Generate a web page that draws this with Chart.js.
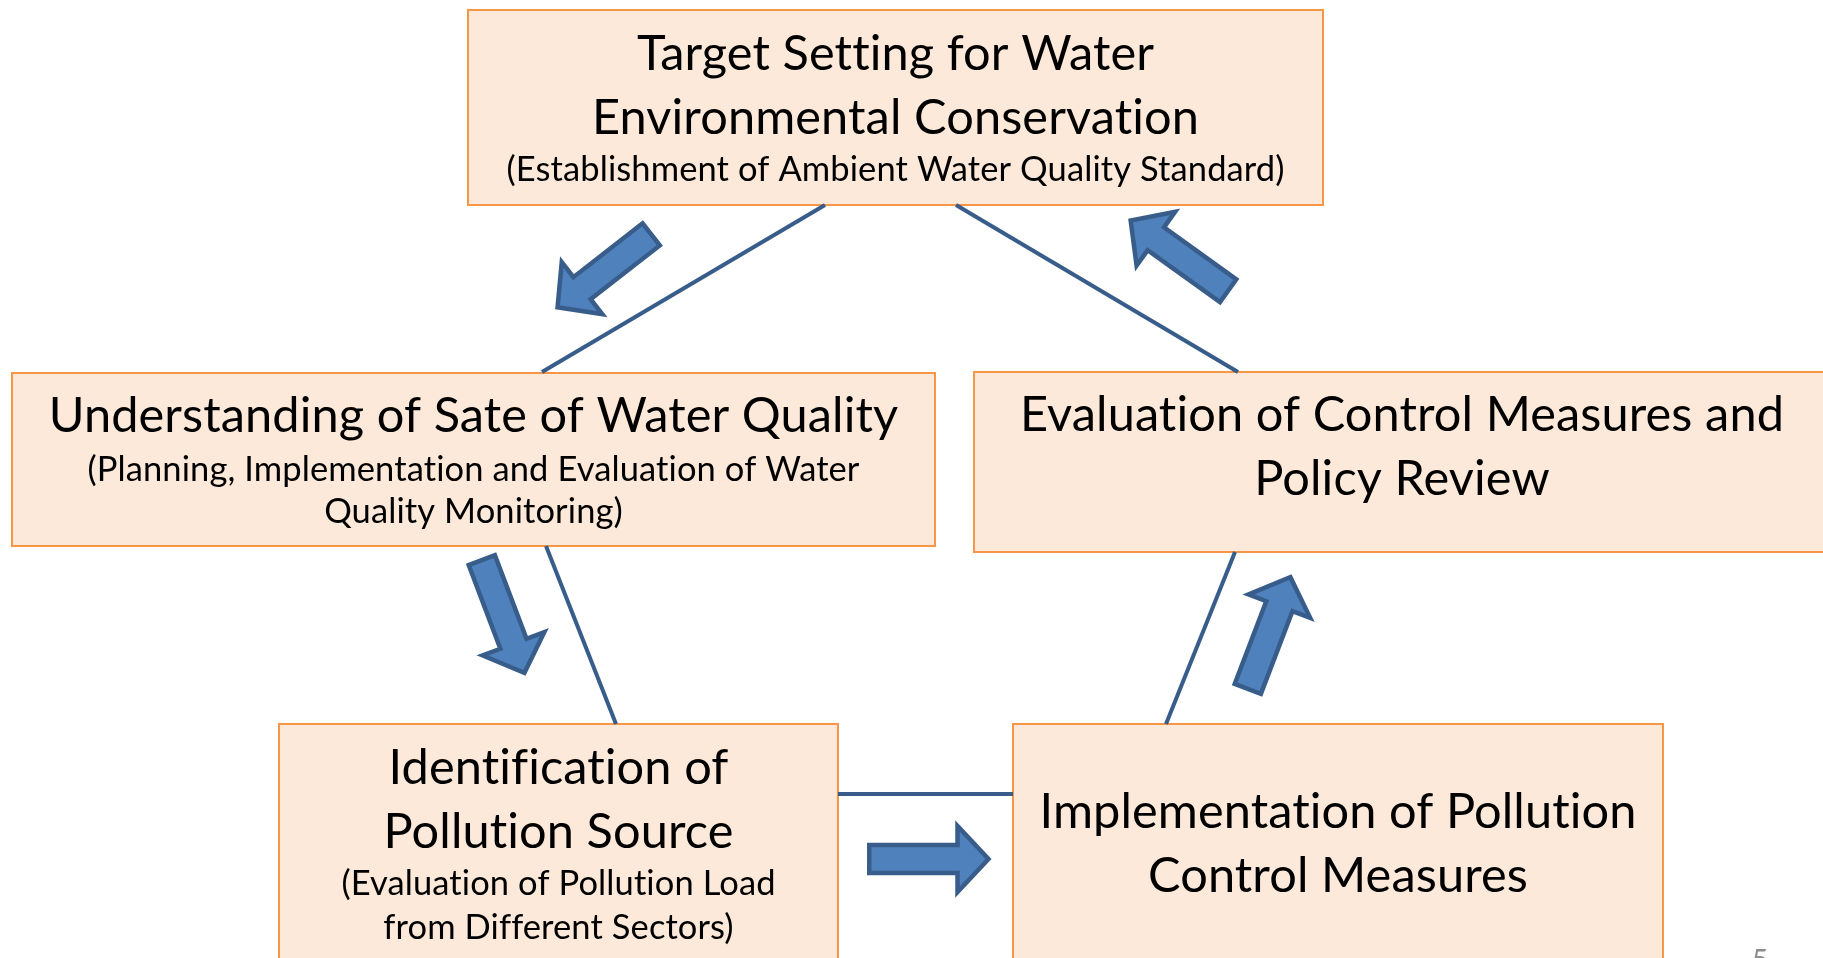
<!DOCTYPE html>
<html>
<head>
<meta charset="utf-8">
<title>Water environment management cycle</title>
<script src="https://cdn.jsdelivr.net/npm/chart.js@4.4.1/dist/chart.umd.min.js"></script>
<style>
  html, body { margin: 0; padding: 0; background: #ffffff; overflow: hidden; }
  #wrap { position: relative; width: 1823px; height: 958px; }
</style>
</head>
<body>
<div id="wrap"><canvas id="cycle"></canvas></div>
<script>
// steps of the cycle, in order (top, left, bottom left, bottom right, right)
const stepTitles = [
    ['Target Setting for Water', 'Environmental Conservation'],
    ['Understanding of Sate of Water Quality'],
    ['Identification of', 'Pollution Source'],
    ['Implementation of Pollution', 'Control Measures'],
    ['Evaluation of Control Measures and', 'Policy Review']
];
const stepNotes = [
    ['(Establishment of Ambient Water Quality Standard)'],
    ['(Planning, Implementation and Evaluation of Water', 'Quality Monitoring)'],
    ['(Evaluation of Pollution Load', 'from Different Sectors)'],
    [],
    []
];
const pageNumber = '5';

// layout (diagram units = pixels of the slide)
const boxes = [
    [468, 10, 1323, 205],
    [12, 373, 935, 546],
    [279, 724, 838, 1000],
    [1013, 724, 1663, 1000],
    [974, 372, 1830, 552]
];
const baselines = [
    [70, 134, 181],
    [432, 481, 523],
    [784, 848, 895, 939],
    [828, 892],
    [431, 495]
];
const links = [
    [[825, 205], [542, 372]],
    [[546, 546], [616, 724]],
    [[838, 794], [1013, 794]],
    [[1166, 724], [1235, 552]],
    [[1238, 372], [956, 205]]
];
const arrows = [
    [[653, 233], [554, 310]],
    [[481, 558], [526, 677]],
    [[867, 859], [993, 859]],
    [[1247, 691], [1292, 573]],
    [[1230, 292], [1127, 218]]
];

const FONT = 'Lato, "Open Sans", sans-serif';

// works out a font size so a line gets the width it has on the slide
function fitSize(ctx, text, width) {
    ctx.font = '50px ' + FONT;
    return 50 * width / ctx.measureText(text).width;
}

const diagramPlugin = {
    id: 'diagram',
    beforeDatasetsDraw(chart) {
        const ctx = chart.ctx;
        const xs = chart.scales.x, ys = chart.scales.y;
        ctx.save();
        ctx.letterSpacing = '0.1px'; // keeps Lato from joining "ti"
        const bigSize = fitSize(ctx, stepTitles[1][0], 850);
        const smallSize = fitSize(ctx, stepNotes[0][0], 777);
        boxes.forEach((b, i) => {
            const x0 = xs.getPixelForValue(b[0]), y0 = ys.getPixelForValue(b[1]);
            const x1 = xs.getPixelForValue(b[2]), y1 = ys.getPixelForValue(b[3]);
            ctx.fillStyle = '#FDE9D9';
            ctx.fillRect(x0, y0, x1 - x0, y1 - y0);
            ctx.strokeStyle = '#F79646';
            ctx.lineWidth = 2;
            ctx.strokeRect(x0, y0, x1 - x0, y1 - y0);

            // texts
            const cx = (x0 + x1) / 2;
            ctx.fillStyle = '#000000';
            ctx.textAlign = 'center';
            ctx.textBaseline = 'alphabetic';
            let k = 0;
            stepTitles[i].forEach(t => {
                ctx.font = bigSize.toFixed(1) + 'px ' + FONT;
                ctx.fillText(t, cx, ys.getPixelForValue(baselines[i][k++]));
            });
            stepNotes[i].forEach(t => {
                ctx.font = smallSize.toFixed(1) + 'px ' + FONT;
                ctx.fillText(t, cx, ys.getPixelForValue(baselines[i][k++]));
            });
        });
        ctx.restore();
    },
    afterDatasetsDraw(chart) {
        const ctx = chart.ctx;
        const xs = chart.scales.x, ys = chart.scales.y;
        const sw = 4.5, shaft = 14, head = 33, headLen = 31;
        ctx.save();
        arrows.forEach(a => {
            const [tx, ty] = a[0], [px, py] = a[1];
            const len = Math.hypot(px - tx, py - ty);
            const ux = (px - tx) / len, uy = (py - ty) / len;
            const nx = -uy, ny = ux;
            const sx = tx + ux * sw / 2, sy = ty + uy * sw / 2;
            const ex = px - ux * sw, ey = py - uy * sw;
            const bx = ex - ux * headLen, by = ey - uy * headLen;
            const pts = [
                [sx + nx * shaft, sy + ny * shaft],
                [bx + nx * shaft, by + ny * shaft],
                [bx + nx * head, by + ny * head],
                [ex, ey],
                [bx - nx * head, by - ny * head],
                [bx - nx * shaft, by - ny * shaft],
                [sx - nx * shaft, sy - ny * shaft]
            ];
            ctx.beginPath();
            pts.forEach((p, j) => {
                const X = xs.getPixelForValue(p[0]), Y = ys.getPixelForValue(p[1]);
                if (j === 0) ctx.moveTo(X, Y); else ctx.lineTo(X, Y);
            });
            ctx.closePath();
            ctx.fillStyle = '#4F81BD';
            ctx.fill();
            ctx.lineJoin = 'miter';
            ctx.lineWidth = sw;
            ctx.strokeStyle = '#385D8A';
            ctx.stroke();
        });

        // page number
        ctx.font = '28px ' + FONT;
        ctx.fillStyle = '#8C8C8C';
        ctx.textAlign = 'center';
        ctx.textBaseline = 'alphabetic';
        ctx.fillText(pageNumber, xs.getPixelForValue(1760), ys.getPixelForValue(970));
        ctx.restore();
    }
};

new Chart(document.getElementById('cycle'), {
    type: 'scatter',
    data: {
        datasets: links.map(l => ({
            data: l.map(p => ({ x: p[0], y: p[1] })),
            showLine: true,
            borderColor: '#385D8A',
            borderWidth: 4,
            pointRadius: 0,
            fill: false
        }))
    },
    options: {
        responsive: true,
        maintainAspectRatio: false,
        animation: false,
        layout: { padding: 0 },
        plugins: { legend: { display: false }, tooltip: { enabled: false } },
        scales: {
            x: { type: 'linear', min: 0, max: 1823, display: false },
            y: { type: 'linear', min: 0, max: 958, reverse: true, display: false }
        }
    },
    plugins: [diagramPlugin]
});
</script>
</body>
</html>
